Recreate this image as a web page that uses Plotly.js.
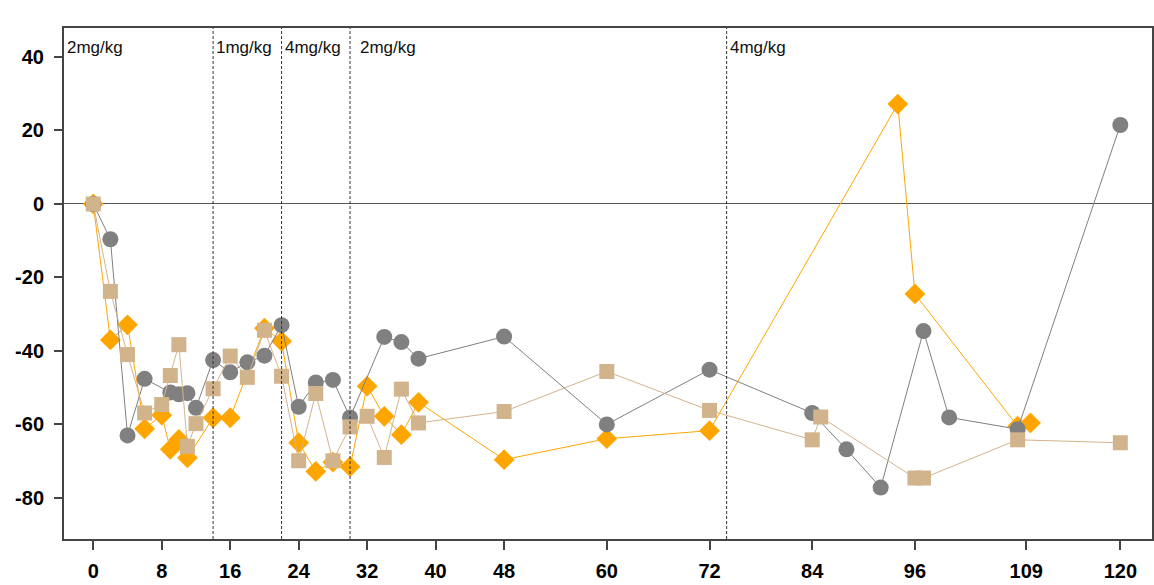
<!DOCTYPE html>
<html>
<head>
<meta charset="utf-8">
<script src="https://cdn.plot.ly/plotly-3.0.1.min.js"></script>
<style>html,body{margin:0;padding:0;background:#fff;}#chart{width:1154px;height:585px;}</style>
</head>
<body>
<div id="chart"></div>
<script>
// Series: gray circles
const grayX = [0,2,4,6,9,10,11,12,14,16,18,20,22,24,26,28,30,34,36,38,48,60,72,84,88,92,97,100,108,120];
const grayY = [0,-9.6,-63,-47.6,-51.3,-51.8,-51.5,-55.5,-42.5,-45.8,-43.1,-41.3,-33,-55.2,-48.6,-47.9,-58.1,-36.2,-37.6,-42.1,-36.1,-60,-45.1,-56.9,-66.8,-77.2,-34.6,-58.1,-61.3,21.5];
// Series: tan squares
const tanX = [0,2,4,6,8,9,10,11,12,14,16,18,20,22,24,26,28,30,32,34,36,38,48,60,72,84,85,96,97,108,120];
const tanY = [0,-23.8,-41,-56.9,-54.6,-46.7,-38.3,-66,-59.8,-50.3,-41.4,-47.2,-34.4,-46.9,-69.9,-51.6,-69.9,-60.7,-57.8,-69,-50.4,-59.6,-56.5,-45.6,-56.2,-64.2,-58,-74.6,-74.6,-64.2,-65];
// Series: orange diamonds
const orangeX = [0,2,4,6,8,9,10,11,14,16,20,22,24,26,28,30,32,34,36,38,48,60,72,94,96,108,109.5];
const orangeY = [0,-37,-32.9,-61.2,-57.5,-66.8,-64.1,-69.1,-58.2,-58.2,-33.8,-37.4,-65,-72.8,-70.3,-71.5,-49.6,-57.8,-62.8,-54,-69.6,-63.9,-61.7,27.2,-24.5,-60.5,-59.6];
// Dose change markers
const doseX = [14,22,30,74];
const doseLabelX = [-3.4,14,22,30,74];
const doseLabels = ['2mg/kg','1mg/kg','4mg/kg','2mg/kg','4mg/kg'];
// Tick labels
const xTicks = [0,8,16,24,32,40,48,60,72,84,96,109,120];
const yTicks = [40,20,0,-20,-40,-60,-80];

const traces = [
  {x: orangeX, y: orangeY, mode: 'lines+markers', type: 'scatter',
   line: {color: '#FFA500', width: 1},
   marker: {symbol: 'diamond', size: 16, color: '#FFA500'}},
  {x: grayX, y: grayY, mode: 'lines+markers', type: 'scatter',
   line: {color: '#7f7f7f', width: 1},
   marker: {symbol: 'circle', size: 16, color: '#808080'}},
  {x: tanX, y: tanY, mode: 'lines+markers', type: 'scatter',
   line: {color: '#D2B48C', width: 1},
   marker: {symbol: 'square', size: 15, color: '#D2B48C'}}
];

const shapes = doseX.map(v => ({type: 'line', xref: 'x', yref: 'paper', x0: v, x1: v, y0: 0, y1: 1,
  line: {color: '#333', width: 1, dash: '3px,2px'}}));

const annotations = doseLabels.map((t, i) => ({
  x: doseLabelX[i], y: 1, xref: 'x', yref: 'paper', text: t, showarrow: false,
  xanchor: 'left', yanchor: 'top', xshift: i === 3 ? 8 : 1, yshift: -8,
  font: {family: 'Liberation Sans, Arial, sans-serif', size: 17, color: '#111'}
}));

const tf = {size: 20, color: '#000', family: 'Liberation Sans, Arial, sans-serif', weight: 'bold'};

const layout = {
  width: 1154, height: 585,
  margin: {l: 64, r: 2, t: 28, b: 46},
  paper_bgcolor: '#fff', plot_bgcolor: '#fff',
  showlegend: false,
  font: {family: 'Liberation Sans, Arial, sans-serif', color: '#000'},
  xaxis: {
    range: [-3.42, 123.7], tickmode: 'array', tickvals: xTicks, ticktext: xTicks.map(String),
    ticks: 'outside', ticklen: 9, tickwidth: 2, tickcolor: '#444', ticklabelstandoff: 4,
    showline: true, linecolor: '#444', linewidth: 2, mirror: true,
    showgrid: false, zeroline: false, tickfont: tf
  },
  yaxis: {
    range: [-91.2, 47.9], tickmode: 'array', tickvals: yTicks, ticktext: yTicks.map(String),
    ticks: 'outside', ticklen: 8, tickwidth: 2, tickcolor: '#444', ticklabelstandoff: 6,
    showline: true, linecolor: '#444', linewidth: 2, mirror: true,
    showgrid: false, zeroline: true, zerolinecolor: '#555', zerolinewidth: 1, tickfont: tf
  },
  shapes: shapes,
  annotations: annotations
};

Plotly.newPlot('chart', traces, layout, {displayModeBar: false, staticPlot: true});
</script>
</body>
</html>
